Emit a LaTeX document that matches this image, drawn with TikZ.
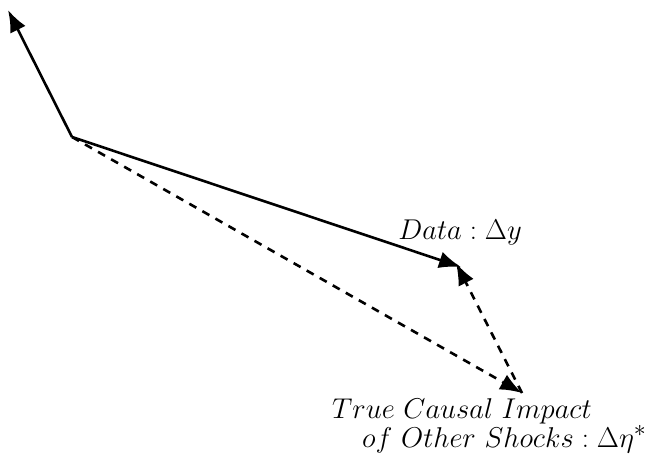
\documentclass[tikz,border=0pt]{standalone}
\usepackage{graphicx}
\usetikzlibrary{arrows.meta}
\newcommand{\biglbl}[1]{\scalebox{1.15}{$#1$}}
\begin{document}
\begin{tikzpicture}[x=1pt,y=-1pt,
  vec/.style={line width=2.6pt,-{Latex[length=22pt,width=17pt]}},
  dvec/.style={vec,dash pattern=on 8pt off 7pt},
  lbl/.style={inner sep=0pt,font=\fontsize{24.88}{30}\selectfont}]
\useasboundingbox (0,0) rectangle (647,463);
\coordinate (o) at (72,137);
\coordinate (up) at (8,10);
\coordinate (d) at (461,267);
\coordinate (t) at (522,393);
\coordinate (tu) at (456,263);
\draw[vec] (o) -- (up);
\draw[vec] (o) -- (d);
\draw[dvec] (o) -- (t);
\draw[dvec] (t) -- (tu);
\node[lbl,anchor=base] (dl) at (460,239) {\biglbl{Data:\Delta y}};
\node[lbl,anchor=base west] (tl1) at (332,418) {\biglbl{True\ Causal\ Impact}};
\node[lbl,anchor=base west] (tl2) at (362,447) {\biglbl{of\ Other\ Shocks:\Delta\eta^{*}}};
\end{tikzpicture}
\end{document}
